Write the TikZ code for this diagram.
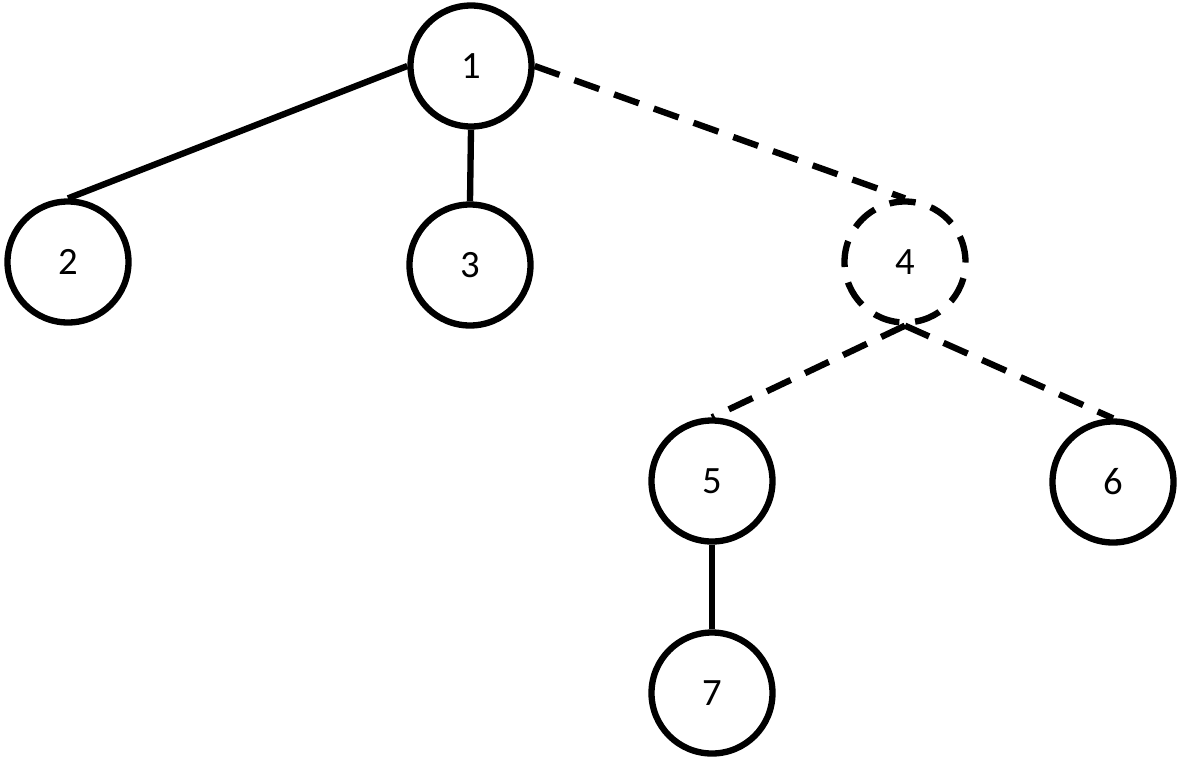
\documentclass[tikz,border=0pt]{standalone}
\usepackage{fontspec}
\setmainfont{Carlito}
\usetikzlibrary{positioning}
\tikzset{
  vertex/.style={circle,draw=black,line width=3.6pt,minimum size=2.42cm,
    inner sep=0pt,font=\fontsize{22}{24}\selectfont},
  pruned/.style={vertex,dash pattern=on 15pt off 9pt},
  edge/.style={line width=3.6pt,black},
  cut/.style={edge,dash pattern=on 15pt off 9pt}
}
\begin{document}
\begin{tikzpicture}
  \useasboundingbox (0,0) rectangle (23.58,-15.2);
  \node[vertex] (one) at (9.42,-1.32) {1};
  \node[vertex] (two) at (1.36,-5.24) {2};
  \node[vertex] (three) at (9.40,-5.30) {3};
  \node[pruned] (four) at (18.10,-5.24) {4};
  \node[vertex] (five) at (14.24,-9.62) {5};
  \node[vertex] (six) at (22.26,-9.64) {6};
  \node[vertex] (seven) at (14.24,-13.86) {7};
  \draw[edge] (one.west) -- (two.north);
  \draw[edge] (one.south) -- (three.north);
  \draw[cut] (one.east) -- (four.north);
  \draw[cut] (four.south) -- (five.north);
  \draw[cut] (four.south) -- (six.north);
  \draw[edge] (five.south) -- (seven.north);
\end{tikzpicture}
\end{document}
